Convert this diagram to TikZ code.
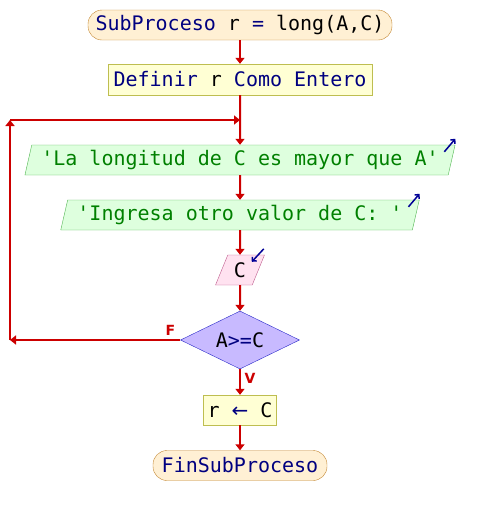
\documentclass[tikz,border=0pt]{standalone}
\usepackage{fontspec}
\setmonofont{DejaVu Sans Mono}
\newfontfamily\lblfont{DejaVu Sans}
\usetikzlibrary{shapes.geometric,arrows.meta}

\definecolor{flowred}{RGB}{204,0,0}
\definecolor{kwnavy}{RGB}{0,0,128}
\definecolor{ionavy}{RGB}{0,0,150}
\definecolor{termfill}{RGB}{255,240,212}
\definecolor{termline}{RGB}{195,135,50}
\definecolor{procfill}{RGB}{255,255,212}
\definecolor{procline}{RGB}{190,190,80}
\definecolor{outfill}{RGB}{222,255,222}
\definecolor{outline}{RGB}{80,180,80}
\definecolor{outtext}{RGB}{0,128,0}
\definecolor{infill}{RGB}{255,226,240}
\definecolor{inline}{RGB}{190,90,140}
\definecolor{decfill}{RGB}{200,186,255}
\definecolor{decline}{RGB}{40,40,200}

\begin{document}
\begin{tikzpicture}[x=1pt,y=-1pt,
    every node/.style={font=\ttfamily\fontsize{20}{24}\selectfont, inner sep=0pt},
    term/.style={draw=termline, fill=termfill, rounded corners=14pt, minimum height=30pt, text=kwnavy},
    proc/.style={draw=procline, fill=procfill, minimum height=31pt, text=kwnavy},
    outbox/.style={trapezium, trapezium stretches=true, trapezium left angle=71.6,
        trapezium right angle=108.4, draw=outline, fill=outfill, minimum height=30pt, text=outtext},
    inbox/.style={trapezium, trapezium stretches=true, trapezium left angle=68.2,
        trapezium right angle=111.8, draw=inline, fill=infill, minimum height=30pt},
    dec/.style={diamond, shape aspect=2, draw=decline, fill=decfill, minimum width=119pt, minimum height=58pt},
    flow/.style={draw=flowred, line width=2pt, -{Triangle[width=9pt,length=6pt]}},
    ioarrow/.style={draw=ionavy, line width=1.5pt, -{Straight Barb[length=3pt,width=6pt]}},
    lbl/.style={font=\lblfont\bfseries\fontsize{14}{16}\selectfont, text=flowred}
]
    \useasboundingbox (0,0) rectangle (480,515);

    % Nodes
    \node[term, minimum width=304pt] (start) at (240,25)
        {SubProceso \textcolor{black}{r} = \textcolor{black}{long(A,C)}};
    \node[proc, minimum width=264pt] (def) at (240,79.5)
        {Definir \textcolor{black}{r} Como Entero};
    \node[outbox, minimum width=432pt] (out1) at (240,160) {'La longitud de C es mayor que A'};
    \node[outbox, minimum width=360pt] (out2) at (240,215) {'Ingresa otro valor de C: '};
    \node[inbox, minimum width=49pt] (inp) at (240,270) {C};
    \node[dec] (cond) at (240,340) {A\textcolor{kwnavy}{>=}C};
    \node[proc, minimum width=73pt, minimum height=30pt] (asig) at (240,410)
        {\textcolor{black}{r} {\lblfont ←} \textcolor{black}{C}};
    \node[term, minimum width=174pt] (fin) at (240,465.5) {FinSubProceso};

    % Loop corners
    \coordinate (loopbl) at (10,340);
    \coordinate (looptl) at (10,120);
    \coordinate (join) at (240,120);

    % Connectors
    \draw[flow] (start) -- (def);
    \draw[flow] (def) -- (out1);
    \draw[flow] (out1) -- (out2);
    \draw[flow] (out2) -- (inp);
    \draw[flow] (inp) -- (cond);
    \draw[flow] (cond) -- (asig);
    \draw[flow] (asig) -- (fin);
    \draw[flow] (cond.west) -- (loopbl);
    \draw[flow] (loopbl) -- (looptl);
    \draw[flow] (looptl) -- (join);

    % Branch labels
    \node[lbl] (flbl) at ([xshift=-10pt,yshift=10pt]cond.west) {F};
    \node[lbl] (vlbl) at ([xshift=10pt,yshift=-9pt]cond.south) {V};

    % In/out marks
    \draw[ioarrow] ([xshift=-11pt,yshift=-7pt]out1.top right corner) -- ++(11,-13);
    \draw[ioarrow] ([xshift=-11pt,yshift=-7pt]out2.top right corner) -- ++(11,-13);
    \draw[ioarrow] ([xshift=-1pt,yshift=6pt]inp.top right corner) -- ++(-12,13);
\end{tikzpicture}
\end{document}
